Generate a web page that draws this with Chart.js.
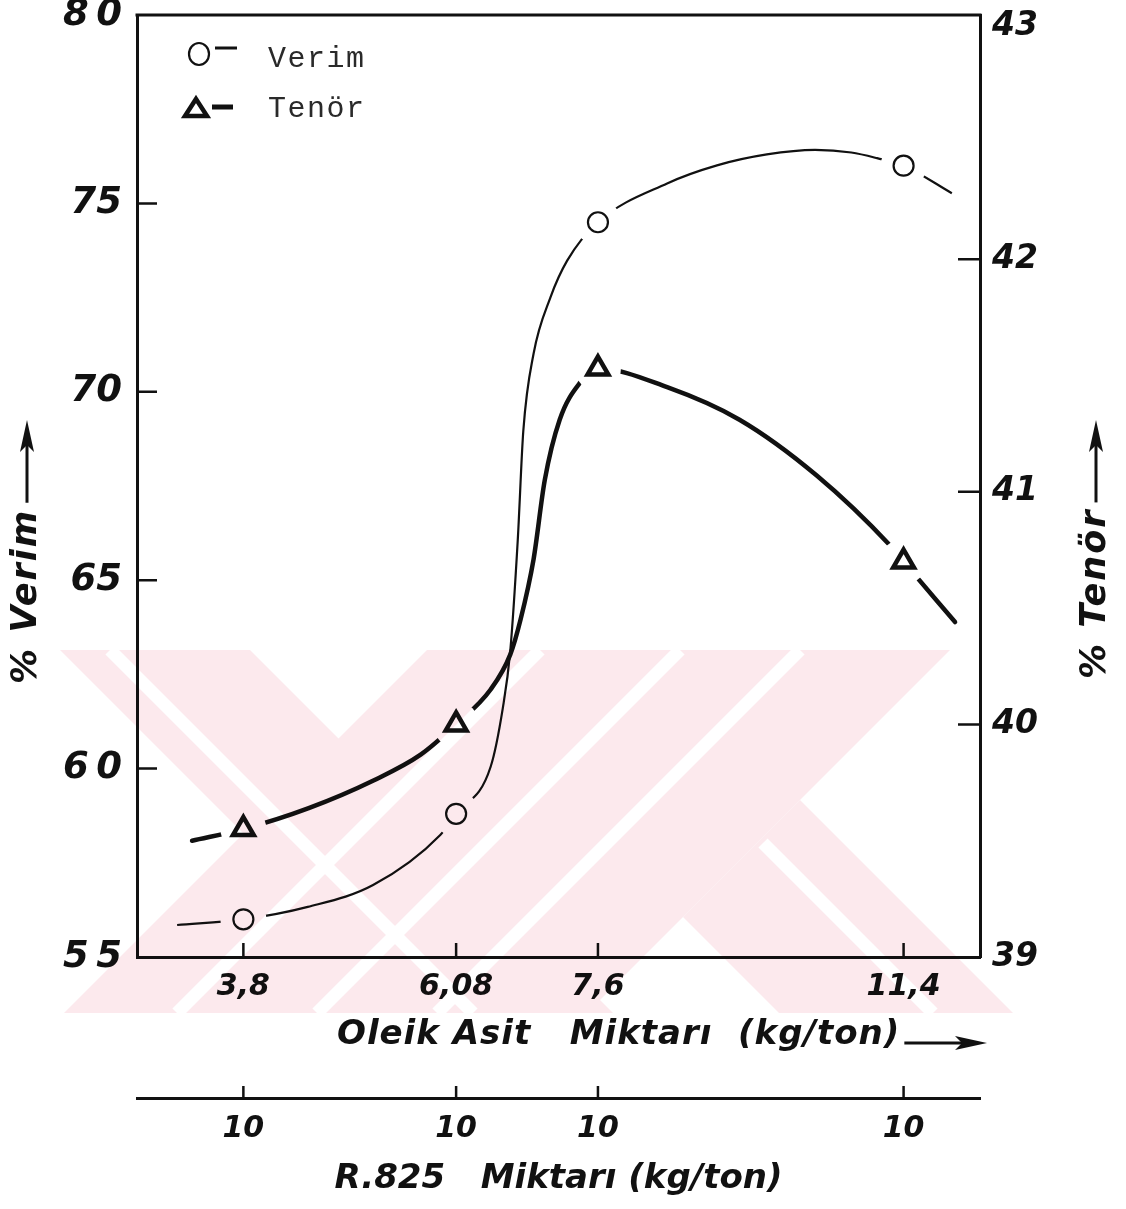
<!DOCTYPE html>
<html>
<head>
<meta charset="utf-8">
<script src="https://cdn.jsdelivr.net/npm/chart.js@4.4.1/dist/chart.umd.min.js"></script>
<style>
  html, body { margin: 0; padding: 0; background: #fff; }
  #wrap { width: 1126px; height: 1209px; position: relative; }
</style>
</head>
<body>
<div id="wrap"><canvas id="chart"></canvas></div>
<script>
// Oleik asit amounts (kg/ton) of the four runs, R.825 kept at 10 kg/ton
const oleik = [3.8, 6.08, 7.6, 11.4];
const oleikLabels = ['3,8', '6,08', '7,6', '11,4'];
const r825Labels = ['10', '10', '10', '10'];

// measured values
const verim = [56.0, 58.8, 74.5, 76.0];
const tenor = [39.55, 40.0, 41.53, 40.7];

// hand-faired curves through the measured points
const verimCurveX = [3.09, 3.8, 4.49, 5.19, 5.91, 6.08, 6.45, 6.58, 6.66, 6.74, 6.80, 6.91, 7.09, 7.27, 7.6, 8.46, 9.08, 9.70, 10.3, 10.75, 11.07, 11.4, 12.0];
const verimCurveY = [55.85, 56.0, 56.33, 56.91, 58.24, 58.8, 60.05, 61.6, 63.11, 66.04, 68.96, 71.01, 72.5, 73.48, 74.5, 75.53, 76.01, 76.30, 76.42, 76.35, 76.2, 76.0, 75.27];
const tenorCurveX = [3.25, 3.8, 4.5, 5.2, 5.7, 6.08, 6.45, 6.66, 6.77, 6.91, 7.03, 7.19, 7.41, 7.6, 8.46, 9.36, 10.32, 11.23, 11.4, 12.04];
const tenorCurveY = [39.50, 39.55, 39.64, 39.76, 39.87, 40.0, 40.15, 40.30, 40.45, 40.71, 41.05, 41.31, 41.47, 41.53, 41.45, 41.31, 41.07, 40.77, 40.7, 40.44];

// axis ticks
const verimTicks = [55, 60, 65, 70, 75, 80];
const verimTickLabels = ['5\u20095', '6\u20090', '65', '70', '75', '8\u20090'];
const tenorTicks = [39, 40, 41, 42, 43];
const tenorTickLabels = ['39', '40', '41', '42', '43'];

const INK = '#111';
const STAMP = '#fce9ed';
const tickFont = (size) => ({ family: 'DejaVu Sans', size: size, style: 'italic', weight: 'bold' });

// the x axis is drawn tighter past 7.6 kg/ton, so the scale bends there
class BentScale extends Chart.LinearScale {
  static id = 'bent';
  static defaults = {};
  _span(v) {
    const { bend, squeeze } = this.options;
    return v <= bend ? v - this.min : (bend - this.min) + (v - bend) * squeeze;
  }
  getPixelForValue(value) {
    if (value === null || isNaN(value)) return NaN;
    return this.getPixelForDecimal(this._span(value) / this._span(this.max));
  }
  getValueForPixel(pixel) {
    const { bend, squeeze } = this.options;
    const s = this.getDecimalForPixel(pixel) * this._span(this.max);
    const k = bend - this.min;
    return s <= k ? this.min + s : bend + (s - k) / squeeze;
  }
}
Chart.register(BentScale);

const pts = (xs, ys) => xs.map((x, i) => ({ x: x, y: ys[i] }));

// pale hatched stamp printed over the lower half of the sheet
function drawStamp(ctx, w, h) {
  const off = document.createElement('canvas');
  off.width = w; off.height = h;
  const c = off.getContext('2d');
  c.fillStyle = STAMP;
  const shapes = [
    [[60, 650], [250, 650], [613, 1013], [423, 1013]],
    [[427, 650], [950, 650], [587, 1013], [64, 1013]],
    [[800, 800], [1013, 1013], [779, 1013], [683, 917]]
  ];
  shapes.forEach(s => {
    c.beginPath();
    s.forEach(([x, y], i) => (i ? c.lineTo(x, y) : c.moveTo(x, y)));
    c.closePath();
    c.fill();
  });
  c.strokeStyle = '#fff';
  c.lineWidth = 13;
  c.beginPath();
  [540, 680, 800].forEach(x => { c.moveTo(x, 650); c.lineTo(x - 363, 1013); });
  c.moveTo(110, 650); c.lineTo(473, 1013);
  c.moveTo(763, 843); c.lineTo(933, 1013);
  c.stroke();
  ctx.save();
  ctx.globalCompositeOperation = 'multiply';
  ctx.drawImage(off, 0, 0, w, h);
  ctx.restore();
}

// short inward tick marks, frame top, axis titles and the key
const paperMarks = {
  id: 'paperMarks',
  afterDraw(chart) {
    const { ctx, chartArea: a, scales } = chart;
    ctx.save();
    ctx.strokeStyle = INK;
    ctx.fillStyle = INK;
    ctx.lineCap = 'butt';

    ctx.lineWidth = 3;
    ctx.beginPath();
    ctx.moveTo(a.left - 1.5, a.top);
    ctx.lineTo(a.right + 1.5, a.top);
    ctx.stroke();

    ctx.lineWidth = 2.5;
    ctx.beginPath();
    verimTicks.slice(1, -1).forEach(v => {
      const y = scales.y.getPixelForValue(v);
      ctx.moveTo(a.left, y); ctx.lineTo(a.left + 20, y);
    });
    tenorTicks.slice(1, -1).forEach(v => {
      const y = scales.y1.getPixelForValue(v);
      ctx.moveTo(a.right, y); ctx.lineTo(a.right - 22, y);
    });
    oleik.forEach(v => {
      const x = scales.x.getPixelForValue(v);
      ctx.moveTo(x, a.bottom); ctx.lineTo(x, a.bottom - 14);
      const x2 = scales.x2.getPixelForValue(v);
      ctx.moveTo(x2, scales.x2.top); ctx.lineTo(x2, scales.x2.top - 12);
    });
    ctx.stroke();

    const arrowHead = (tip) => {
      ctx.beginPath();
      ctx.moveTo(tip, 0); ctx.lineTo(tip - 32, -7); ctx.lineTo(tip - 25, 0); ctx.lineTo(tip - 32, 7);
      ctx.closePath();
      ctx.fill();
    };
    const upTitle = (text, cx, bottom, tip) => {
      ctx.save();
      ctx.translate(cx, bottom);
      ctx.rotate(-Math.PI / 2);
      ctx.font = 'italic bold 35px "DejaVu Sans"';
      ctx.letterSpacing = '2px';
      ctx.textAlign = 'left';
      ctx.textBaseline = 'middle';
      ctx.fillText(text, 0, 0);
      const start = ctx.measureText(text).width + 6;
      const end = bottom - tip;
      ctx.lineWidth = 3;
      ctx.beginPath();
      ctx.moveTo(start, 0); ctx.lineTo(end - 20, 0);
      ctx.stroke();
      arrowHead(end);
      ctx.restore();
    };
    upTitle('% Verim', 27, 684, 420);
    upTitle('% Tenör', 1096, 679, 420);

    // title under the oleik axis, with its arrow
    ctx.save();
    ctx.font = 'italic bold 34px "DejaVu Sans"';
    ctx.letterSpacing = '1px';
    ctx.textAlign = 'left';
    ctx.textBaseline = 'middle';
    const xTitle = 'Oleik Asit   Miktarı  (kg/ton)';
    ctx.fillText(xTitle, 337, 1035);
    const tx = 337 + ctx.measureText(xTitle).width + 4;
    ctx.translate(0, 1043);
    ctx.lineWidth = 3;
    ctx.beginPath();
    ctx.moveTo(tx, 0); ctx.lineTo(965, 0);
    ctx.stroke();
    arrowHead(987);
    ctx.restore();

    // key
    ctx.lineWidth = 2.2;
    ctx.beginPath();
    ctx.ellipse(199, 54, 10, 11, 0, 0, Math.PI * 2);
    ctx.stroke();
    ctx.lineWidth = 3;
    ctx.beginPath();
    ctx.moveTo(215, 48); ctx.lineTo(237, 48);
    ctx.stroke();
    ctx.lineWidth = 4.5;
    ctx.lineJoin = 'miter';
    ctx.beginPath();
    ctx.moveTo(196, 99); ctx.lineTo(207, 116); ctx.lineTo(185, 116);
    ctx.closePath();
    ctx.stroke();
    ctx.lineWidth = 5;
    ctx.beginPath();
    ctx.moveTo(212, 107); ctx.lineTo(233, 107);
    ctx.stroke();

    ctx.fillStyle = '#2a2a2a';
    ctx.font = '30px "Liberation Mono"';
    ctx.letterSpacing = '1.5px';
    ctx.textAlign = 'left';
    ctx.textBaseline = 'alphabetic';
    ctx.fillText(chart.data.datasets[0].label, 268, 67);
    ctx.fillText(chart.data.datasets[1].label, 268, 117);
    ctx.restore();

    drawStamp(ctx, chart.width, chart.height);
  }
};

const bottomAxis = (labels, pad, title, titlePad, weight, height) => ({
  type: 'bent',
  position: 'bottom',
  weight: weight,
  min: 2.66,
  max: 12.35,
  bend: 7.6,
  squeeze: 0.862,
  grid: { display: false },
  border: { display: true, color: INK, width: 3 },
  afterBuildTicks: (s) => { s.ticks = oleik.map(v => ({ value: v })); },
  afterFit: (s) => { s.height = height; s.paddingLeft = 0; s.paddingRight = 0; },
  ticks: {
    autoSkip: false,
    maxRotation: 0,
    padding: pad,
    color: INK,
    font: tickFont(30),
    callback: (v, i) => labels[i]
  },
  title: {
    display: title !== '',
    text: title,
    color: INK,
    font: tickFont(34),
    padding: { top: 0, bottom: titlePad }
  }
});

new Chart(document.getElementById('chart'), {
  type: 'line',
  data: {
    datasets: [
      { label: 'Verim', data: pts(verimCurveX, verimCurveY), yAxisID: 'y', borderColor: INK, borderWidth: 2.2,
        pointRadius: 0, cubicInterpolationMode: 'monotone', order: 3 },
      { label: 'Tenör', data: pts(tenorCurveX, tenorCurveY), yAxisID: 'y1', borderColor: INK, borderWidth: 4.5,
        pointRadius: 0, cubicInterpolationMode: 'monotone', borderCapStyle: 'round', order: 3 },
      // white gaps left round the plotted marks
      { label: 'Verim', data: pts(oleik, verim), yAxisID: 'y', showLine: false, pointRadius: 23,
        pointBackgroundColor: '#fff', pointBorderWidth: 0, order: 2 },
      { label: 'Tenör', data: pts(oleik, tenor), yAxisID: 'y1', showLine: false, pointRadius: 23,
        pointBackgroundColor: '#fff', pointBorderWidth: 0, order: 2 },
      { label: 'Verim', data: pts(oleik, verim), yAxisID: 'y', showLine: false, pointStyle: 'circle', pointRadius: 10,
        pointBorderColor: INK, pointBorderWidth: 2.2, pointBackgroundColor: 'rgba(0,0,0,0)', order: 1 },
      { label: 'Tenör', data: pts(oleik, tenor), yAxisID: 'y1', showLine: false, pointStyle: 'triangle', pointRadius: 12,
        pointBorderColor: INK, pointBorderWidth: 4.5, pointBackgroundColor: 'rgba(0,0,0,0)', order: 1 }
    ]
  },
  options: {
    responsive: true,
    maintainAspectRatio: false,
    animation: false,
    events: [],
    layout: { autoPadding: false, padding: { top: 15, left: 0, right: 0, bottom: 0 } },
    plugins: { legend: { display: false }, tooltip: { enabled: false } },
    scales: {
      x: bottomAxis(oleikLabels, 4, '', 0, 0, 141),
      x2: bottomAxis(r825Labels, 5, 'R.825   Miktarı (kg/ton)', 9, 1, 111),
      y: {
        type: 'linear',
        position: 'left',
        min: 55,
        max: 80,
        grid: { display: false },
        border: { display: true, color: INK, width: 3 },
        afterBuildTicks: (s) => { s.ticks = verimTicks.map(v => ({ value: v })); },
        afterFit: (s) => { s.width = 137; s.paddingTop = 0; s.paddingBottom = 0; },
        ticks: { padding: 7, color: INK, font: tickFont(37), callback: (v, i) => verimTickLabels[i] }
      },
      y1: {
        type: 'linear',
        position: 'right',
        min: 39,
        max: 43.05,
        grid: { display: false },
        border: { display: true, color: INK, width: 3 },
        afterBuildTicks: (s) => { s.ticks = tenorTicks.map(v => ({ value: v })); },
        afterFit: (s) => { s.width = 146; s.paddingTop = 0; s.paddingBottom = 0; },
        ticks: { padding: 4, color: INK, font: tickFont(33), callback: (v, i) => tenorTickLabels[i] }
      }
    }
  },
  plugins: [paperMarks]
});
</script>
</body>
</html>
